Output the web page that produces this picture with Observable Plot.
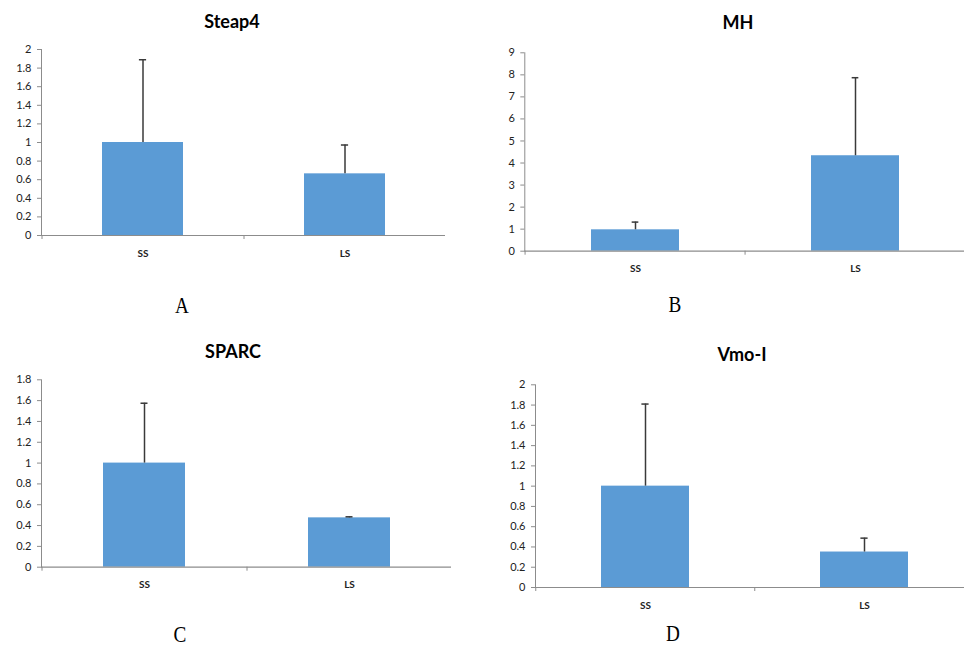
<!DOCTYPE html>
<html>
<head>
<meta charset="utf-8">
<script src="https://cdn.jsdelivr.net/npm/d3@7"></script>
<script src="https://cdn.jsdelivr.net/npm/@observablehq/plot@0.6"></script>
<style>
  html, body { margin: 0; padding: 0; background: #fff; }
  #root { position: relative; width: 964px; height: 646px; overflow: hidden; background: #fff; }
  .panel { position: absolute; }
  .title { position: absolute; font-family: Lato, "Open Sans", sans-serif; font-weight: bold; font-size: 18px; color: #000; transform: translate(-50%, -50%); white-space: nowrap; }
  .letter { position: absolute; font-family: "Liberation Serif", serif; font-size: 24px; color: #000; transform: translate(-50%, -50%) scaleX(0.8); white-space: nowrap; }
</style>
</head>
<body>
<div id="root"></div>
<script>
const categories = ["SS", "LS"];

const steap4Mean = [1.0, 0.663];
const steap4Err  = [0.89, 0.31];
const mhMean     = [0.97, 4.33];
const mhErr      = [0.35, 3.54];
const sparcMean  = [1.0, 0.474];
const sparcErr   = [0.575, 0.01];
const vmoMean    = [1.0, 0.35];
const vmoErr     = [0.81, 0.137];

const ticksA = [0, 0.2, 0.4, 0.6, 0.8, 1, 1.2, 1.4, 1.6, 1.8, 2];
const ticksB = [0, 1, 2, 3, 4, 5, 6, 7, 8, 9];
const ticksC = [0, 0.2, 0.4, 0.6, 0.8, 1, 1.2, 1.4, 1.6, 1.8];
const ticksD = [0, 0.2, 0.4, 0.6, 0.8, 1, 1.2, 1.4, 1.6, 1.8, 2];

const panels = [
  {title: "Steap4", letter: "A", mean: steap4Mean, err: steap4Err, ymax: 2, ticks: ticksA,
   left: 0, top: 0, width: 460, height: 270, mL: 41, mR: 15, mT: 49, mB: 35,
   tx: 232, ty: 21, lx: 182, ly: 305},
  {title: "MH", letter: "B", mean: mhMean, err: mhErr, ymax: 9, ticks: ticksB,
   left: 480, top: 0, width: 486, height: 290, mL: 44.3, mR: 0, mT: 52.3, mB: 39.3,
   tx: 738, ty: 22, lx: 675, ly: 304},
  {title: "SPARC", letter: "C", mean: sparcMean, err: sparcErr, ymax: 1.8, ticks: ticksC,
   left: 0, top: 330, width: 460, height: 270, mL: 41, mR: 9, mT: 49.3, mB: 33.3,
   tx: 233, ty: 351, lx: 180, ly: 634},
  {title: "Vmo-I", letter: "D", mean: vmoMean, err: vmoErr, ymax: 2, ticks: ticksD,
   left: 480, top: 330, width: 494, height: 290, mL: 55, mR: 0, mT: 54.3, mB: 33,
   tx: 742, ty: 354, lx: 673, ly: 633}
];

const root = document.getElementById("root");
const axisColor = "#8c8c8c";
const barColor = "#5b9bd5";
const errColor = "#3a3a3a";

for (const p of panels) {
  const data = categories.map((c, i) => ({cat: c, mean: p.mean[i], top: p.mean[i] + p.err[i]}));
  const pI = 0.6, pO = 0.3;
  const range = p.width - p.mL - p.mR;
  const step = range / (categories.length - pI + 2 * pO);
  const bw = step * (1 - pI);
  const capHalf = 3.5;

  const chart = Plot.plot({
    width: p.width,
    height: p.height,
    marginLeft: p.mL,
    marginRight: p.mR,
    marginTop: p.mT,
    marginBottom: p.mB,
    style: {fontFamily: "Lato, 'Open Sans', sans-serif", background: "transparent", overflow: "visible"},
    x: {type: "band", domain: categories, paddingInner: pI, paddingOuter: pO, label: null},
    y: {domain: [0, p.ymax], label: null},
    marks: [
      Plot.barY(data, {x: "cat", y: "mean", fill: barColor}),
      Plot.ruleX(data, {x: "cat", y1: "mean", y2: "top", stroke: errColor, strokeWidth: 1.5}),
      Plot.tickY(data, {x: "cat", y: "top", stroke: errColor, strokeWidth: 1.5,
        insetLeft: bw / 2 - capHalf, insetRight: bw / 2 - capHalf}),
      Plot.frame({anchor: "left", stroke: axisColor, strokeWidth: 1}),
      Plot.ruleY([0], {stroke: axisColor, strokeWidth: 1.2}),
      Plot.ruleX(categories, {x: d => d, y1: 0, y2: 0, dx: -step / 2, insetBottom: -4, stroke: axisColor}),
      Plot.axisY({ticks: p.ticks, tickSize: 4, tickPadding: 6, stroke: axisColor,
        fill: "#222", fontSize: 11, tickFormat: d => String(+d.toFixed(1)), label: null}),
      Plot.axisX({tickSize: 0, tickPadding: 14, fill: "#222", fontSize: 10, fontWeight: "bold", label: null})
    ]
  });
  chart.classList.add("panel");
  chart.style.left = p.left + "px";
  chart.style.top = p.top + "px";
  root.appendChild(chart);

  const t = document.createElement("div");
  t.className = "title";
  t.textContent = p.title;
  t.style.left = p.tx + "px";
  t.style.top = p.ty + "px";
  root.appendChild(t);

  const l = document.createElement("div");
  l.className = "letter";
  l.textContent = p.letter;
  l.style.left = p.lx + "px";
  l.style.top = p.ly + "px";
  root.appendChild(l);
}
</script>
</body>
</html>
